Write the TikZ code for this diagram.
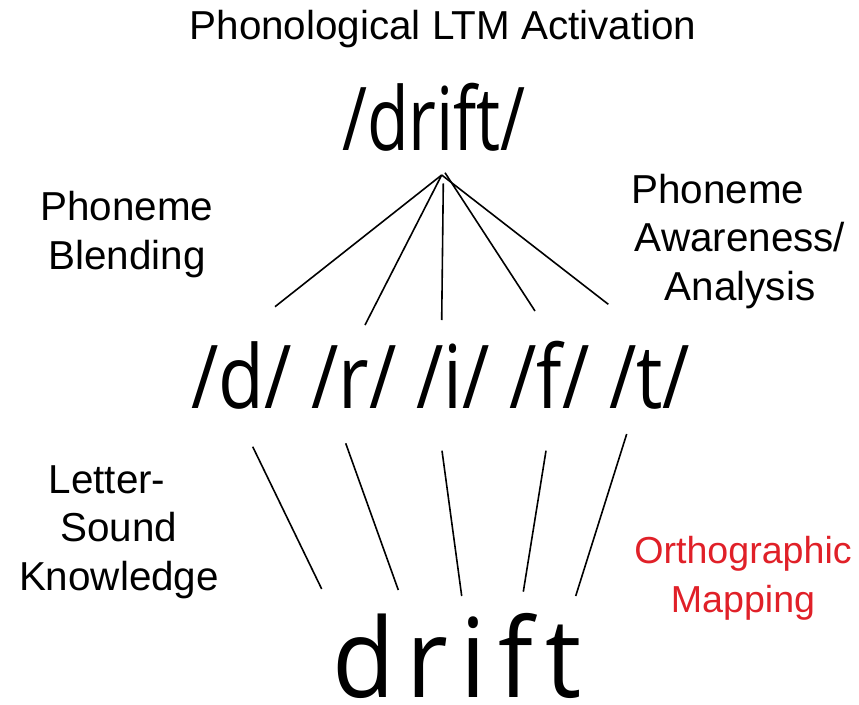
\documentclass[tikz,border=0pt]{standalone}
\usepackage{fontspec}
\usepackage{graphicx}
\setmainfont{Liberation Sans}
\newfontfamily\bigfont{Open Sans}
\newfontfamily\wordfont[LetterSpace=12]{Open Sans}
\definecolor{mapred}{RGB}{224,32,40}
\begin{document}
\begin{tikzpicture}[x=1pt,y=-1pt,
  lbl/.style={inner sep=0pt,anchor=base,align=center,font=\fontsize{40.4}{48.5}\selectfont},
  big/.style={inner sep=0pt,anchor=base},
  link/.style={line width=1.6pt,black}]
\useasboundingbox (0,0) rectangle (859,704);
% labels (anchor base = baseline of last line)
\node[lbl] (title) at (443,39) {Phonological LTM Activation};
\node[lbl] (blend) at (127,269) {Phoneme\\Blending};
\node[lbl] (aware) at (740,300) {Phoneme\hspace*{44pt}\\Awareness/\\Analysis};
\node[lbl] (lsk) at (119,590) {Letter-\hspace*{24pt}\\Sound\hspace*{24pt}\\Knowledge};
\node[lbl,text=mapred,font=\fontsize{37.6}{48.5}\selectfont] (ortho) at (743,612) {Orthographic\\Mapping};
% big words
\node[big] (top) at (434,150) {\resizebox{184pt}{\height}{\fontsize{88}{90}\bigfont /drift/}};
\node[big] (phon) at (441,408) {\resizebox{499pt}{\height}{\fontsize{88}{90}\bigfont /d/ /r/ /i/ /f/ /t/}};
\node[big] (word) at (457,697) {\resizebox{250pt}{\height}{\fontsize{110}{112}\wordfont drift}};
% end points
\coordinate (a0) at (441.7,175);
\coordinate (a1) at (443.3,183.3);
\coordinate (a2) at (445,172.7);
\coordinate (p1) at (275,306.7);
\coordinate (p2) at (365,325);
\coordinate (p3) at (441.7,320);
\coordinate (p4) at (535,311);
\coordinate (p5) at (608.3,304.3);
\coordinate (q1) at (252.7,446.7);
\coordinate (q2) at (345.7,443.3);
\coordinate (q3) at (442,450.7);
\coordinate (q4) at (546,450.7);
\coordinate (q5) at (626.7,434);
\coordinate (w1) at (321.7,589);
\coordinate (w2) at (398.3,590);
\coordinate (w3) at (461.7,596);
\coordinate (w4) at (523.3,591.7);
\coordinate (w5) at (575.7,596);
% connectors
\draw[link] (a0) -- (p1);
\draw[link] (a0) -- (p2);
\draw[link] (a1) -- (p3);
\draw[link] (a2) -- (p4);
\draw[link] (a0) -- (p5);
\draw[link] (q1) -- (w1);
\draw[link] (q2) -- (w2);
\draw[link] (q3) -- (w3);
\draw[link] (q4) -- (w4);
\draw[link] (q5) -- (w5);
\end{tikzpicture}
\end{document}
